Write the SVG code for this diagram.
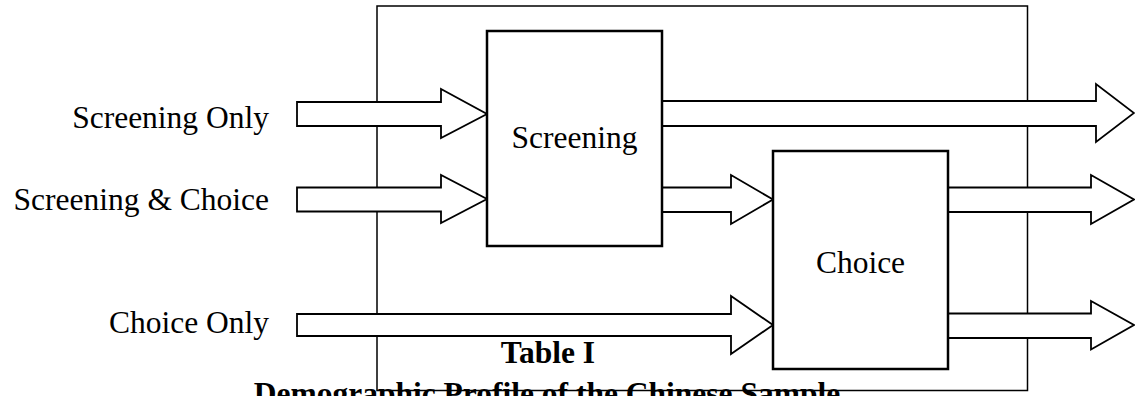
<svg xmlns="http://www.w3.org/2000/svg" width="1135" height="396" viewBox="0 0 1135 396">
  <style>
    .frame { fill: none; stroke: #000; stroke-width: 1.5; }
    .box { fill: #fff; stroke: #000; stroke-width: 2.5; }
    .arrow { fill: #fff; stroke: #000; stroke-width: 1.8; stroke-linejoin: miter; }
    .lbl { font-family: "Liberation Serif", "Times New Roman", serif; font-size: 31.5px; fill: #000; }
    .title { font-family: "Liberation Serif", "Times New Roman", serif; font-size: 31.5px; font-weight: bold; fill: #000; text-anchor: middle; }
  </style>
  <rect width="1135" height="396" fill="#fff"/>
  <g id="frame">
    <rect class="frame" x="377" y="6" width="650.5" height="384.5"/>
  </g>
  <g id="connectors">
    <polygon class="arrow" points="297,102 441,102 441,89 487,114 441,138 441,126 297,126"/>
    <polygon class="arrow" points="297,187.5 441,187.5 441,175 487,199 441,223 441,211.5 297,211.5"/>
    <polygon class="arrow" points="297,314 731,314 731,296 773,325 731,354 731,336 297,336"/>
    <polygon class="arrow" points="662,101 1096,101 1096,84 1134,113 1096,142 1096,126 662,126"/>
    <polygon class="arrow" points="662,187.5 731,187.5 731,175 773,199.5 731,224 731,212 662,212"/>
    <polygon class="arrow" points="948,187.5 1091,187.5 1091,175 1134,199.5 1091,224 1091,212 948,212"/>
    <polygon class="arrow" points="948,313.5 1091,313.5 1091,301 1134,325 1091,349.5 1091,338 948,338"/>
  </g>
  <g id="label-screening-only">
    <text class="lbl" x="269" y="127.5" text-anchor="end">Screening Only</text>
  </g>
  <g id="label-screening-choice">
    <text class="lbl" x="269" y="210" text-anchor="end">Screening &amp; Choice</text>
  </g>
  <g id="label-choice-only">
    <text class="lbl" x="269" y="333" text-anchor="end">Choice Only</text>
  </g>
  <g id="node-screening">
    <rect class="box" x="487" y="31" width="175" height="215"/>
    <text class="lbl" x="574.5" y="147.5" text-anchor="middle">Screening</text>
  </g>
  <g id="node-choice">
    <rect class="box" x="773" y="151" width="175" height="218"/>
    <text class="lbl" x="860.5" y="273" text-anchor="middle">Choice</text>
  </g>
  <g id="caption">
    <text class="title" x="548" y="363">Table I</text>
    <text class="title" x="547" y="404">Demographic Profile of the Chinese Sample</text>
  </g>
</svg>
